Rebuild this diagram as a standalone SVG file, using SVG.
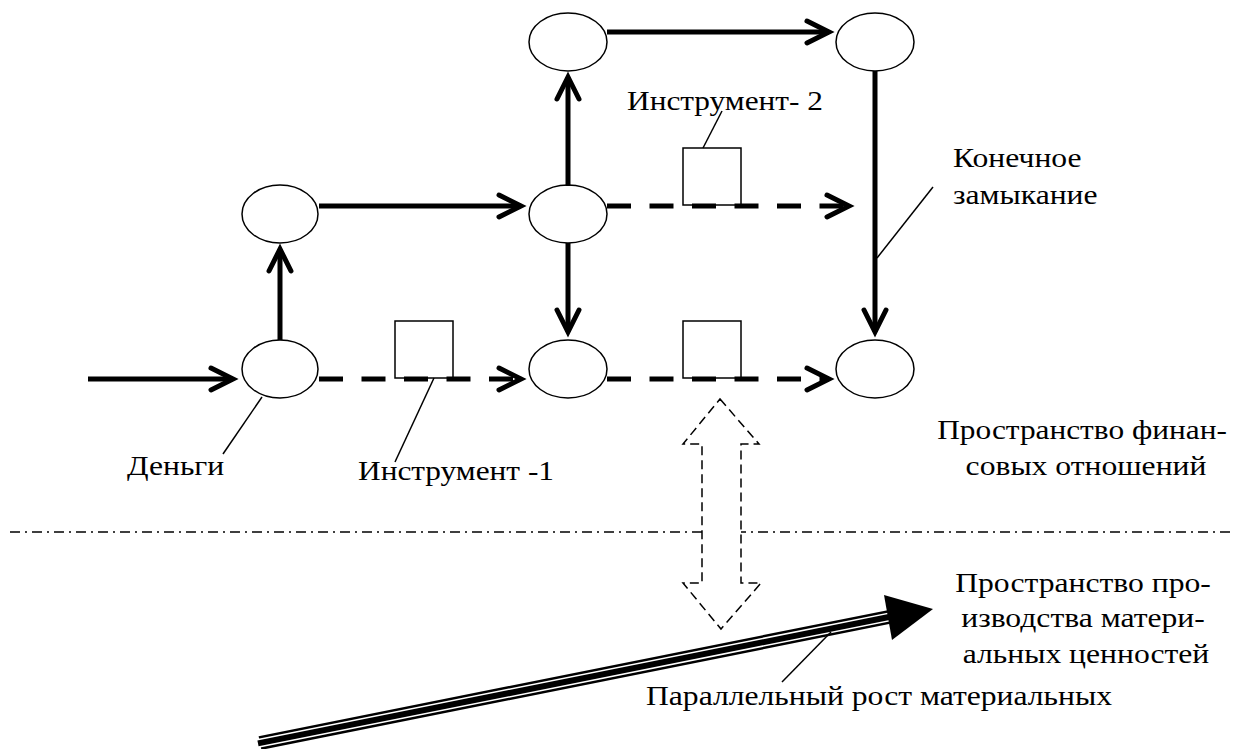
<svg xmlns="http://www.w3.org/2000/svg" width="1240" height="749" viewBox="0 0 1240 749">
<style>
.node{fill:#fff;stroke:#000;stroke-width:1.5}
.box{fill:none;stroke:#000;stroke-width:1.5}
.solid{fill:none;stroke:#000;stroke-width:5}
.dash{fill:none;stroke:#000;stroke-width:5;stroke-dasharray:24 18.5}
.lead{fill:none;stroke:#000;stroke-width:1.5}
.lbl{font-family:"Liberation Serif","DejaVu Serif",serif;font-size:27.5px;fill:#000}
</style>
<defs>
<marker id="chev" markerUnits="userSpaceOnUse" viewBox="-30 -16 40 32" refX="0" refY="0" markerWidth="40" markerHeight="32" orient="auto">
<path d="M-22,-11 L0,0 L-22,11" fill="none" stroke="#000" stroke-width="5" stroke-linecap="round"/>
</marker>
</defs>
<rect width="1240" height="749" fill="#fff"/>
<g id="separator">
<line x1="10" y1="532" x2="1230" y2="532" stroke="#000" stroke-width="1.3" stroke-dasharray="10 5 2 5"/>
</g>
<g id="nodes">
<g id="n-top-left"><ellipse cx="568" cy="42" rx="39" ry="29" class="node"/></g>
<g id="n-top-right"><ellipse cx="875" cy="42" rx="39" ry="29" class="node"/></g>
<g id="n-mid-left"><ellipse cx="280" cy="214" rx="38" ry="29" class="node"/></g>
<g id="n-mid-center"><ellipse cx="568" cy="214" rx="39" ry="29" class="node"/></g>
<g id="n-bot-left"><ellipse cx="280" cy="369" rx="38" ry="29" class="node"/></g>
<g id="n-bot-center"><ellipse cx="568" cy="369" rx="39" ry="29" class="node"/></g>
<g id="n-bot-right"><ellipse cx="875" cy="369" rx="39" ry="29" class="node"/></g>
<g id="instr-1"><rect x="395" y="321" width="58" height="57" class="box"/></g>
<g id="instr-bot"><rect x="683" y="321" width="58" height="57" class="box"/></g>
<g id="instr-2"><rect x="683" y="148" width="58" height="57" class="box"/></g>
</g>
<g id="connectors">
<path d="M88,379 L233,379" class="solid" marker-end="url(#chev)"/>
<path d="M319,379 L521,379" class="dash" marker-end="url(#chev)"/>
<path d="M607,379 L829,379" class="dash" marker-end="url(#chev)"/>
<path d="M319,206 L521,206" class="solid" marker-end="url(#chev)"/>
<path d="M607,206 L849,206" class="dash" marker-end="url(#chev)"/>
<path d="M607,32 L829,32" class="solid" marker-end="url(#chev)"/>
<path d="M280,340 L280,249" class="solid" marker-end="url(#chev)"/>
<path d="M568,186 L568,77" class="solid" marker-end="url(#chev)"/>
<path d="M568,243 L568,332" class="solid" marker-end="url(#chev)"/>
<path d="M875,71 L875,332" class="solid" marker-end="url(#chev)"/>
</g>
<g id="double-arrow">
<path d="M720,399 L759,444 L741,444 L741,583 L761,583 L721,629 L683,583 L702,583 L702,444 L683,444 Z" fill="#fff" stroke="#000" stroke-width="1.5" stroke-dasharray="9 5"/>
</g>
<g id="growth-arrow">
<line x1="260" y1="743" x2="889" y2="617" stroke="#000" stroke-width="14"/>
<line x1="258" y1="743.4" x2="891" y2="616.6" stroke="#fff" stroke-width="9"/>
<line x1="258" y1="743.4" x2="889" y2="617" stroke="#000" stroke-width="6"/>
<polygon points="884,595 933,609 892,640" fill="#000"/>
</g>
<g id="leaders">
<line x1="262" y1="397" x2="223" y2="454" class="lead"/>
<line x1="434" y1="378" x2="395" y2="462" class="lead"/>
<line x1="703" y1="148" x2="722" y2="111" class="lead"/>
<line x1="877" y1="258" x2="933" y2="187" class="lead"/>
<line x1="831" y1="632" x2="782" y2="682" class="lead"/>
</g>
<g id="labels" class="lbl">
<text transform="translate(127 475) scale(1.15 1)">Деньги</text>
<text transform="translate(358 480) scale(1.14 1)">Инструмент -1</text>
<text transform="translate(627 110) scale(1.14 1)">Инструмент- 2</text>
<text transform="translate(953 167) scale(1.15 1)">Конечное</text>
<text transform="translate(953 204) scale(1.15 1)">замыкание</text>
<text transform="translate(1082 439) scale(1.14 1)" text-anchor="middle">Пространство финан-</text>
<text transform="translate(1086 475) scale(1.15 1)" text-anchor="middle">совых отношений</text>
<text transform="translate(1083 592) scale(1.15 1)" text-anchor="middle">Пространство про-</text>
<text transform="translate(1083 627) scale(1.15 1)" text-anchor="middle">изводства матери-</text>
<text transform="translate(1086 663) scale(1.15 1)" text-anchor="middle">альных ценностей</text>
<text transform="translate(646 705) scale(1.15 1)">Параллельный рост материальных</text>
</g>
</svg>
